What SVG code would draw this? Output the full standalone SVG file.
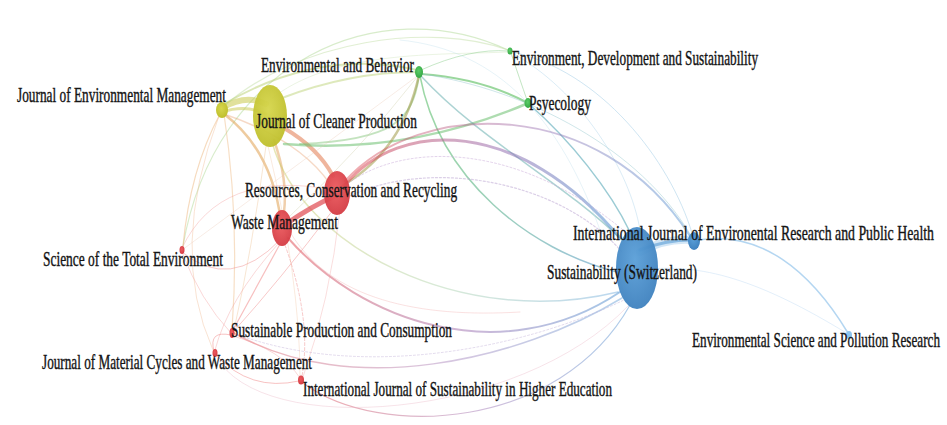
<svg xmlns="http://www.w3.org/2000/svg" width="947" height="425" viewBox="0 0 947 425">
  <defs>
    <linearGradient id="gRB" x1="0" y1="0" x2="1" y2="0">
      <stop offset="0" stop-color="#e0454c"/>
      <stop offset="0.55" stop-color="#9a6fb0"/>
      <stop offset="1" stop-color="#4a8fd0"/>
    </linearGradient>
    <linearGradient id="gGB" x1="0" y1="0" x2="1" y2="0">
      <stop offset="0" stop-color="#4cb85a"/>
      <stop offset="1" stop-color="#4a90c8"/>
    </linearGradient>
    <linearGradient id="gYB" x1="0" y1="0" x2="1" y2="0">
      <stop offset="0" stop-color="#c8c85a"/>
      <stop offset="0.5" stop-color="#a8d0a8"/>
      <stop offset="1" stop-color="#6aa8dc"/>
    </linearGradient>
    <radialGradient id="nY" cx="0.45" cy="0.4" r="0.6">
      <stop offset="0" stop-color="#d6d64c"/>
      <stop offset="1" stop-color="#bfbf2c"/>
    </radialGradient>
    <radialGradient id="nR" cx="0.45" cy="0.4" r="0.6">
      <stop offset="0" stop-color="#ec5a5e"/>
      <stop offset="1" stop-color="#d43c44"/>
    </radialGradient>
    <radialGradient id="nB" cx="0.45" cy="0.4" r="0.6">
      <stop offset="0" stop-color="#5a9fd8"/>
      <stop offset="1" stop-color="#3f82bf"/>
    </radialGradient>
    <radialGradient id="nG" cx="0.45" cy="0.4" r="0.6">
      <stop offset="0" stop-color="#5ccc68"/>
      <stop offset="1" stop-color="#34a844"/>
    </radialGradient>
  </defs>
  <style>
    .e { fill: none; stroke-linecap: round; }
    /* labels are set in a condensed serif: glyphs squeezed horizontally */
    .lbl { font-family: "Liberation Serif", "Times New Roman", serif; font-size: 20px; fill: #111111; stroke: #1a1a1a; stroke-width: 0.4px; }
  </style>
  <rect width="947" height="425" fill="#ffffff"/>

  <g id="connectors">
    <!-- long arcs ending at Environment, Development and Sustainability -->
    <path class="e" d="M183,246 C215,60 380,-10 508,50" stroke="#b8dca0" stroke-width="1.2" opacity="0.55"/>
    <path class="e" d="M224,106 C300,40 430,22 508,50" stroke="#c4e0a8" stroke-width="1.2" opacity="0.5"/>
    <path class="e" d="M270,100 C330,50 440,55 508,52" stroke="#cde4b8" stroke-width="1" opacity="0.4"/>

    <!-- yellow cluster -->
    <path class="e" d="M222,108 Q246,94 266,104" stroke="#c8c84a" stroke-width="6" opacity="0.55"/>
    <path class="e" d="M222,112 Q246,104 266,114" stroke="#c8c84a" stroke-width="3" opacity="0.5"/>
    <path class="e" d="M224,104 Q320,48 417,70" stroke="#b8d070" stroke-width="2" opacity="0.5"/>
    <path class="e" d="M282,98 Q350,72 417,72" stroke="#b5cf6a" stroke-width="2" opacity="0.45"/>
    <path class="e" d="M224,114 Q272,150 281,222" stroke="#e0a050" stroke-width="2.5" opacity="0.55"/>
    <path class="e" d="M274,140 Q288,180 284,212" stroke="#e2a05a" stroke-width="2.5" opacity="0.5"/>
    <path class="e" d="M284,128 Q318,148 333,176" stroke="#e5845c" stroke-width="4" opacity="0.6"/>
    <path class="e" d="M224,114 Q300,140 330,184" stroke="#e8a070" stroke-width="1.5" opacity="0.4"/>
    <path class="e" d="M220,114 Q190,170 183,246" stroke="#ecb070" stroke-width="1.2" opacity="0.45"/>
    <path class="e" d="M224,114 Q240,220 232,330" stroke="#eeb880" stroke-width="1.2" opacity="0.45"/>
    <path class="e" d="M219,116 Q168,250 213,350" stroke="#f0b890" stroke-width="1" opacity="0.4"/>
    <path class="e" d="M266,146 Q252,250 234,330" stroke="#eec090" stroke-width="1" opacity="0.4"/>
    <path class="e" d="M268,146 Q300,280 300,376" stroke="#f2c4a0" stroke-width="1" opacity="0.35"/>
    <path class="e" d="M272,142 C300,245 460,330 618,292" stroke="url(#gYB)" stroke-width="1.5" opacity="0.45"/>

    <!-- green cluster -->
    <path class="e" d="M284,144 C380,152 460,132 526,104" stroke="#6cc070" stroke-width="2.5" opacity="0.55"/>
    <path class="e" d="M419,76 C412,120 395,140 300,144" stroke="#7cc070" stroke-width="2" opacity="0.45"/>
    <path class="e" d="M419,75 Q403,150 342,186" stroke="#a09a48" stroke-width="2.5" opacity="0.55"/>
    <path class="e" d="M421,74 Q480,78 526,102" stroke="#56bc5c" stroke-width="2" opacity="0.6"/>
    <path class="e" d="M421,70 Q470,48 508,51" stroke="#8fd090" stroke-width="1" opacity="0.5"/>
    <path class="e" d="M511,53 Q520,80 527,100" stroke="#8fd090" stroke-width="1" opacity="0.55"/>
    <path class="e" d="M418,76 Q360,150 286,220" stroke="#c8c8a0" stroke-width="1" opacity="0.35"/>
    <path class="e" d="M420,76 C440,180 530,250 617,272" stroke="url(#gGB)" stroke-width="1.5" opacity="0.55"/>
    <path class="e" d="M421,76 C480,140 560,180 622,240" stroke="#5aa8a8" stroke-width="1.5" opacity="0.5"/>
    <path class="e" d="M530,105 C570,140 610,190 630,232" stroke="#48a0b0" stroke-width="1.5" opacity="0.55"/>
    <path class="e" d="M422,74 C530,90 640,150 690,234" stroke="#88c0c8" stroke-width="1" opacity="0.4"/>
    <path class="e" d="M512,52 C600,70 670,160 692,233" stroke="#a8d0e8" stroke-width="1" opacity="0.55"/>
    <path class="e" d="M512,53 C580,90 630,170 640,230" stroke="#b0d4ea" stroke-width="1" opacity="0.45"/>
    <path class="e" d="M400,40 C500,50 560,120 600,230" stroke="#c4e0ee" stroke-width="1" opacity="0.4"/>

    <!-- red cluster -->
    <path class="e" d="M335,196 Q312,206 286,224" stroke="#e04850" stroke-width="5" opacity="0.7"/>
    <path class="e" d="M345,185 C400,118 520,118 620,238" stroke="url(#gRB)" stroke-width="3" opacity="0.55"/>
    <path class="e" d="M345,181 C420,98 600,96 690,236" stroke="url(#gRB)" stroke-width="2" opacity="0.45"/>
    <path class="e" d="M342,188 C400,140 520,140 630,236" stroke="#c8a8d8" stroke-width="1" stroke-dasharray="2,2" opacity="0.5"/>
    <path class="e" d="M350,196 C430,158 560,180 622,252" stroke="#b8a0d0" stroke-width="1.2" stroke-dasharray="2,2" opacity="0.5"/>
    <path class="e" d="M288,238 C360,320 500,372 620,292" stroke="url(#gRB)" stroke-width="2" opacity="0.5"/>
    <path class="e" d="M234,333 C350,400 520,360 622,298" stroke="url(#gRB)" stroke-width="1.5" opacity="0.4"/>
    <path class="e" d="M236,334 C360,380 520,350 624,300" stroke="#c0b0d8" stroke-width="1" stroke-dasharray="2,2" opacity="0.45"/>
    <path class="e" d="M303,383 C380,440 560,430 630,305" stroke="url(#gRB)" stroke-width="1.2" opacity="0.45"/>
    <path class="e" d="M216,356 C260,440 520,420 628,306" stroke="#e8b0c0" stroke-width="1" opacity="0.35"/>
    <path class="e" d="M285,245 Q312,320 302,376" stroke="#ee8888" stroke-width="1" stroke-dasharray="3,2" opacity="0.45"/>
    <path class="e" d="M280,244 Q255,290 233,330" stroke="#ee7070" stroke-width="1.2" opacity="0.45"/>
    <path class="e" d="M333,210 Q280,280 234,331" stroke="#ee7878" stroke-width="1" opacity="0.4"/>
    <path class="e" d="M182,252 Q230,292 280,240" stroke="#ee7878" stroke-width="1" opacity="0.4"/>
    <path class="e" d="M182,248 Q220,168 333,190" stroke="#f09090" stroke-width="1" opacity="0.35"/>
    <path class="e" d="M182,252 Q200,300 231,333" stroke="#f09090" stroke-width="1" opacity="0.35"/>
    <path class="e" d="M278,244 Q228,300 215,350" stroke="#f09090" stroke-width="1" opacity="0.35"/>
    <path class="e" d="M231,335 Q208,330 214,351" stroke="#ee7878" stroke-width="1" opacity="0.45"/>
    <path class="e" d="M216,355 Q250,392 299,381" stroke="#ee7878" stroke-width="1" opacity="0.45"/>
    <path class="e" d="M233,336 Q282,350 300,378" stroke="#f09090" stroke-width="1" opacity="0.35"/>
    <path class="e" d="M340,210 Q330,300 303,377" stroke="#f2a0a0" stroke-width="1" opacity="0.35"/>
    <path class="e" d="M182,250 Q250,200 420,74" stroke="#e8c0a8" stroke-width="1" opacity="0.3"/>
    <path class="e" d="M290,232 C330,300 420,318 520,312" stroke="#f0a8a8" stroke-width="1" opacity="0.35"/>

    <!-- blue cluster -->
    <path class="e" d="M640,252 Q665,238 692,240" stroke="#9cc8ec" stroke-width="8" opacity="0.45"/>
    <path class="e" d="M640,250 Q665,240 692,240" stroke="#5a9cd6" stroke-width="3" opacity="0.6"/>
    <path class="e" d="M698,240 C760,230 810,270 848,333" stroke="#8cc0ea" stroke-width="1.5" opacity="0.65"/>
    <path class="e" d="M642,270 C700,262 760,280 848,334" stroke="#b8d8f2" stroke-width="1" opacity="0.4"/>
  </g>

  <g id="node-jem">
    <ellipse cx="222" cy="110" rx="6" ry="8" fill="url(#nY)"/>
    <text class="lbl" transform="translate(17,102) scale(0.65,1)" textLength="321.5" lengthAdjust="spacingAndGlyphs">Journal of Environmental Management</text>
  </g>
  <g id="node-jcp">
    <ellipse cx="270" cy="116" rx="17" ry="31" fill="url(#nY)" opacity="0.95"/>
    <text class="lbl" transform="translate(256,128) scale(0.65,1)" textLength="247.7" lengthAdjust="spacingAndGlyphs">Journal of Cleaner Production</text>
  </g>
  <g id="node-eb">
    <ellipse cx="419" cy="72" rx="4" ry="6" fill="url(#nG)"/>
    <text class="lbl" transform="translate(261,72) scale(0.65,1)" textLength="235.4" lengthAdjust="spacingAndGlyphs">Environmental and Behavior</text>
  </g>
  <g id="node-eds">
    <ellipse cx="510" cy="51" rx="2.5" ry="3.5" fill="url(#nG)"/>
    <text class="lbl" transform="translate(512,65) scale(0.65,1)" textLength="378.5" lengthAdjust="spacingAndGlyphs">Environment, Development and Sustainability</text>
  </g>
  <g id="node-psy">
    <ellipse cx="528" cy="103" rx="3.5" ry="5" fill="url(#nG)"/>
    <text class="lbl" transform="translate(529,110) scale(0.65,1)" textLength="95.4" lengthAdjust="spacingAndGlyphs">Psyecology</text>
  </g>
  <g id="node-rcr">
    <ellipse cx="337" cy="193" rx="13" ry="22" fill="url(#nR)" opacity="0.95"/>
    <text class="lbl" transform="translate(245,197) scale(0.65,1)" textLength="326.2" lengthAdjust="spacingAndGlyphs">Resources, Conservation and Recycling</text>
  </g>
  <g id="node-wm">
    <ellipse cx="282" cy="228" rx="10" ry="18" fill="url(#nR)" opacity="0.95"/>
    <text class="lbl" transform="translate(231,229) scale(0.65,1)" textLength="164.6" lengthAdjust="spacingAndGlyphs">Waste Management</text>
  </g>
  <g id="node-ste">
    <ellipse cx="182" cy="250" rx="2.5" ry="4" fill="url(#nR)"/>
    <text class="lbl" transform="translate(43,266) scale(0.65,1)" textLength="276.9" lengthAdjust="spacingAndGlyphs">Science of the Total Environment</text>
  </g>
  <g id="node-spc">
    <ellipse cx="232" cy="333" rx="2.5" ry="5" fill="url(#nR)"/>
    <text class="lbl" transform="translate(231,337) scale(0.65,1)" textLength="340" lengthAdjust="spacingAndGlyphs">Sustainable Production and Consumption</text>
  </g>
  <g id="node-jmc">
    <ellipse cx="215" cy="353" rx="2.5" ry="4" fill="url(#nR)"/>
    <text class="lbl" transform="translate(42,369) scale(0.65,1)" textLength="415.4" lengthAdjust="spacingAndGlyphs">Journal of Material Cycles and Waste Management</text>
  </g>
  <g id="node-ijshe">
    <ellipse cx="301" cy="380" rx="3" ry="4.5" fill="url(#nR)"/>
    <text class="lbl" transform="translate(303,396) scale(0.65,1)" textLength="475.4" lengthAdjust="spacingAndGlyphs">International Journal of Sustainability in Higher Education</text>
  </g>
  <g id="node-sus">
    <ellipse cx="637" cy="268" rx="21" ry="41" fill="url(#nB)" opacity="0.95"/>
    <text class="lbl" transform="translate(547,279) scale(0.65,1)" textLength="230.8" lengthAdjust="spacingAndGlyphs">Sustainability (Switzerland)</text>
  </g>
  <g id="node-ijerph">
    <ellipse cx="694" cy="241" rx="6" ry="9" fill="url(#nB)"/>
    <text class="lbl" transform="translate(573,240) scale(0.65,1)" textLength="555.4" lengthAdjust="spacingAndGlyphs">International Journal of Environental Research and Public Health</text>
  </g>
  <g id="node-espr">
    <ellipse cx="849" cy="335" rx="3" ry="4" fill="#8cc4ee"/>
    <text class="lbl" transform="translate(692,347) scale(0.65,1)" textLength="381.5" lengthAdjust="spacingAndGlyphs">Environmental Science and Pollution Research</text>
  </g>
</svg>
